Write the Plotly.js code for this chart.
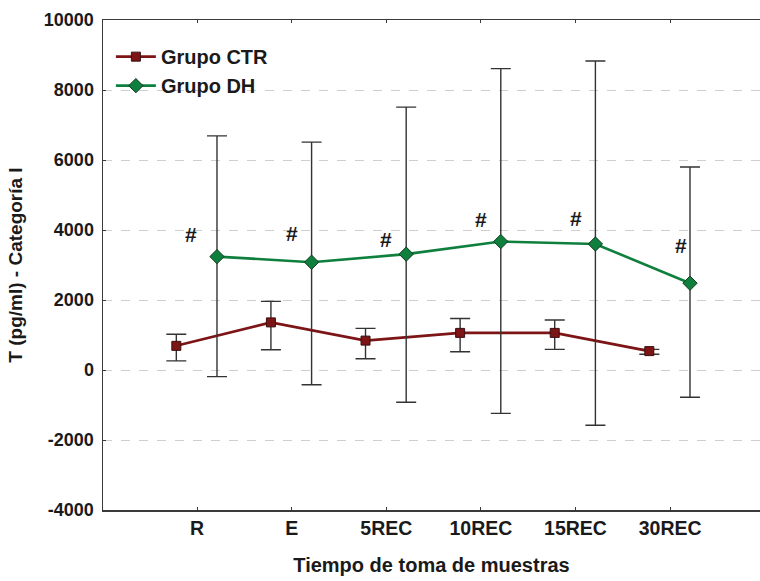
<!DOCTYPE html>
<html>
<head>
<meta charset="utf-8">
<script src="https://cdn.plot.ly/plotly-3.0.1.min.js"></script>
<style>html,body{margin:0;padding:0;background:#fff;}#chart{width:760px;height:581px;}</style>
</head>
<body>
<div id="chart"></div>
<script>
const categories = ['R', 'E', '5REC', '10REC', '15REC', '30REC'];
const ctrMean  = [690, 1360, 840, 1060, 1060, 540];
const ctrUpper = [1020, 1960, 1190, 1470, 1430, 590];
const ctrLower = [260, 580, 320, 520, 590, 450];
const dhMean   = [3240, 3080, 3310, 3670, 3600, 2480];
const dhUpper  = [6690, 6510, 7510, 8610, 8830, 5800];
const dhLower  = [-190, -420, -920, -1240, -1580, -780];
const hashMarks = ['#', '#', '#', '#', '#', '#'];
const hashY    = [3860, 3910, 3740, 4310, 4340, 3570];
const yTickVals  = [-4000, -2000, 0, 2000, 4000, 6000, 8000, 10000];
const yTickLabels = ['-4000', '-2000', '0', '2000', '4000', '6000', '8000', '10000'];

const idx = categories.map((c, i) => i);
const ctrX = idx.map(i => i - 0.22);
const dhX = idx.map(i => i + 0.21);
const hashShift = [-0.07, 0, 0, 0, 0, 0.11];

const FONT = 'Liberation Sans, Arial, sans-serif';
const errStyle = {color: '#333333', thickness: 1.4, width: 10};

const traces = [
  {
    x: ctrX, y: ctrMean, name: 'Grupo CTR', type: 'scatter', mode: 'lines+markers',
    line: {color: '#7d1416', width: 2.6},
    marker: {symbol: 'square', size: 9, color: '#7d1416', line: {color: '#3a1010', width: 1}},
    error_y: Object.assign({type: 'data', symmetric: false,
      array: ctrUpper.map((u, i) => u - ctrMean[i]),
      arrayminus: ctrLower.map((l, i) => ctrMean[i] - l)}, errStyle)
  },
  {
    x: dhX, y: dhMean, name: 'Grupo DH', type: 'scatter', mode: 'lines+markers',
    line: {color: '#0f7f3d', width: 2.6},
    marker: {symbol: 'diamond', size: 11, color: '#0f7f3d', line: {color: '#123a20', width: 1}},
    error_y: Object.assign({type: 'data', symmetric: false,
      array: dhUpper.map((u, i) => u - dhMean[i]),
      arrayminus: dhLower.map((l, i) => dhMean[i] - l)}, errStyle)
  }
];

const annotations = hashMarks.map((t, i) => ({
  x: i + hashShift[i], y: hashY[i], xref: 'x', yref: 'y', text: t, showarrow: false,
  font: {family: FONT, size: 21, color: '#1a1a1a', weight: 'bold'}
}));

const layout = {
  width: 760, height: 581,
  margin: {l: 103, r: 0, t: 20, b: 71},
  paper_bgcolor: '#ffffff', plot_bgcolor: '#ffffff',
  showlegend: true,
  legend: {x: 0.012, y: 0.965, xanchor: 'left', yanchor: 'top', bgcolor: 'rgba(0,0,0,0)',
    font: {family: FONT, size: 20, color: '#1a1a1a', weight: 'bold'},
    tracegroupgap: 0, itemwidth: 40},
  xaxis: {
    range: [-0.995, 5.95], tickmode: 'array', tickvals: idx, ticktext: categories,
    showgrid: false, zeroline: false, showline: true, linecolor: '#3a3a3a', linewidth: 1.5,
    mirror: 'ticks', ticks: 'inside', ticklen: 3, tickcolor: '#3a3a3a',
    tickfont: {family: FONT, size: 19.5, color: '#1a1a1a', weight: 'bold'},
    title: {text: 'Tiempo de toma de muestras', standoff: 20,
      font: {family: FONT, size: 20, color: '#1a1a1a', weight: 'bold'}}
  },
  yaxis: {
    range: [-4000, 10000], tickmode: 'array', tickvals: yTickVals, ticktext: yTickLabels,
    showgrid: true, gridcolor: '#cfcfcf', griddash: 'dash', gridwidth: 1,
    zeroline: false, showline: true, linecolor: '#3a3a3a', linewidth: 1.5,
    ticks: 'inside', ticklen: 3, tickcolor: '#3a3a3a', ticklabelstandoff: 4,
    tickfont: {family: FONT, size: 18, color: '#1a1a1a', weight: 'bold'},
    title: {text: 'T (pg/ml) - Categoría I', standoff: 16,
      font: {family: FONT, size: 19, color: '#1a1a1a', weight: 'bold'}}
  },
  annotations: annotations
};

Plotly.newPlot('chart', traces, layout, {displayModeBar: false, staticPlot: true});
</script>
</body>
</html>
